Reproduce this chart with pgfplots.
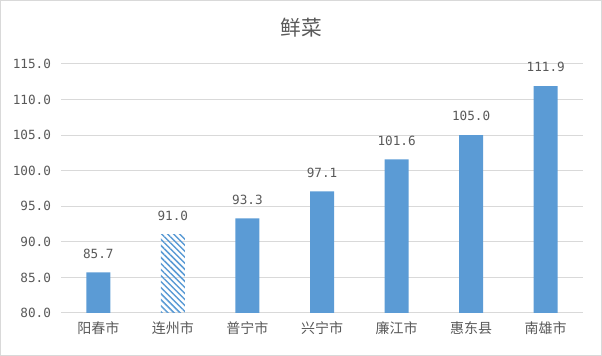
\documentclass[border=0pt]{standalone}
\usepackage{pgfplots}
\pgfplotsset{compat=1.18}
\usepackage{fontspec}
\setmainfont{Noto Sans CJK SC}
\newfontfamily\numfont{DejaVu Sans Mono}
\usetikzlibrary{patterns.meta}
\definecolor{barblue}{HTML}{5B9BD5}
\definecolor{gridgray}{HTML}{D9D9D9}
\definecolor{txtgray}{HTML}{595959}
\begin{document}
\begin{tikzpicture}[x=1pt,y=1pt]
\useasboundingbox (0,0) rectangle (451.5,267);
\draw[gridgray, line width=0.75pt] (0.4,0.4) rectangle (451.1,266.6);
\node[text=txtgray, font=\fontsize{15.5}{17}\selectfont] at (225.75,246) {鲜菜};
\begin{axis}[
  at={(45.75pt,32.25pt)}, anchor=south west,
  scale only axis, width=391.5pt, height=186.75pt,
  xmin=-0.5, xmax=6.5, ymin=80, ymax=115,
  xtick={0,...,6},
  xticklabels={阳春市,连州市,普宁市,兴宁市,廉江市,惠东县,南雄市},
  ytick={80,85,...,115},
  yticklabel style={/pgf/number format/fixed, /pgf/number format/fixed zerofill, /pgf/number format/precision=1, font=\numfont\fontsize{9.5}{11}\selectfont},
  /pgf/number format/assume math mode=true,
  axis x line*=bottom,
  axis y line*=left,
  y axis line style={draw=none},
  x axis line style={draw=gridgray, line width=0.75pt},
  ymajorgrids, grid style={gridgray, line width=0.75pt},
  major tick length=0pt,
  tick label style={text=txtgray},
  xticklabel style={yshift=-3pt, font=\fontsize{10.5}{12}\selectfont},
  yticklabel style={xshift=-4pt},
  ybar, bar width=18pt, bar shift=0pt,
  nodes near coords,
  nodes near coords style={text=txtgray, font=\numfont\fontsize{9.5}{11}\selectfont, /pgf/number format/fixed, /pgf/number format/fixed zerofill, /pgf/number format/precision=1, yshift=7pt},
  clip=false,
]
\addplot[fill=barblue, draw=none] coordinates {(0,85.7) (2,93.3) (3,97.1) (4,101.6) (5,105.0) (6,111.9)};
\addplot[draw=none, pattern={Lines[angle=-45,distance=3.2pt,line width=1.1pt]}, pattern color=barblue] coordinates {(1,91.0)};
\end{axis}
\end{tikzpicture}
\end{document}
